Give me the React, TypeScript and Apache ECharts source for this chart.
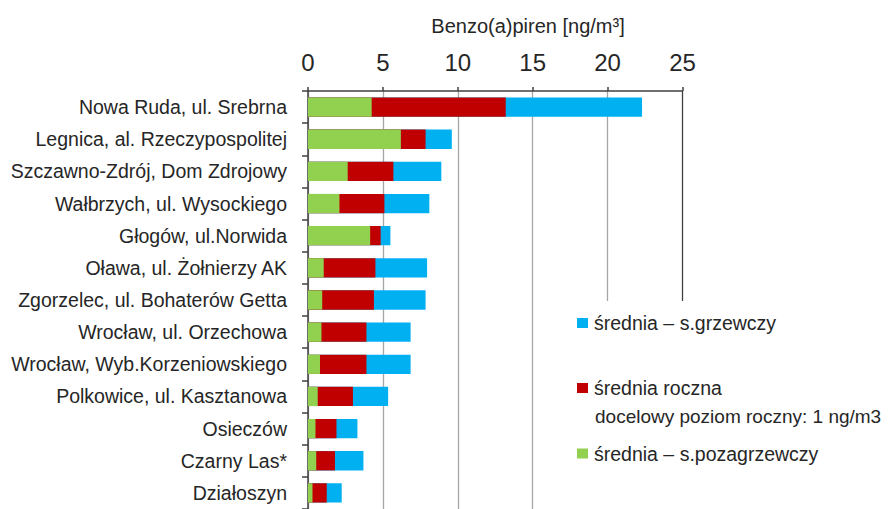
import React, { useEffect, useRef } from "react";
import * as echarts from "echarts";

const categories = [
  "Nowa Ruda, ul. Srebrna",
  "Legnica, al. Rzeczypospolitej",
  "Szczawno-Zdrój, Dom Zdrojowy",
  "Wałbrzych, ul. Wysockiego",
  "Głogów, ul.Norwida",
  "Oława, ul. Żołnierzy AK",
  "Zgorzelec, ul. Bohaterów Getta",
  "Wrocław, ul. Orzechowa",
  "Wrocław, Wyb.Korzeniowskiego",
  "Polkowice, ul. Kasztanowa",
  "Osieczów",
  "Czarny Las*",
  "Działoszyn",
];

const heatingSeason = [22.3, 9.6, 8.9, 8.1, 5.5, 7.95, 7.85, 6.85, 6.85, 5.35, 3.3, 3.7, 2.25];
const annualMean = [13.2, 7.85, 5.7, 5.1, 4.85, 4.5, 4.4, 3.9, 3.9, 3.0, 1.9, 1.8, 1.25];
const nonHeatingSeason = [4.25, 6.2, 2.65, 2.1, 4.15, 1.05, 0.95, 0.9, 0.8, 0.65, 0.5, 0.55, 0.3];

const xTicks = { min: 0, max: 25, interval: 5 };

const nameHeating = "średnia – s.grzewczy";
const nameAnnual = "średnia roczna";
const nameNonHeating = "średnia – s.pozagrzewczy";
const annualNote = "docelowy poziom roczny: 1 ng/m3";
const axisTitle = "Benzo(a)piren [ng/m³]";

const FONT = "'Liberation Sans', Arial, sans-serif";
const TEXT = "#262626";
const AXIS = "#404040";
const GRID = "#a6a6a6";

const BLUE = "#00B0F0";
const RED = "#C00000";
const GREEN = "#92D050";

export default function App() {
  const ref = useRef<HTMLDivElement>(null);

  useEffect(() => {
    if (!ref.current) return;
    const chart = echarts.init(ref.current, undefined, { renderer: "svg" });
    const legendBase = {
      orient: "vertical" as const,
      left: 577,
      padding: 0,
      icon: "rect",
      itemWidth: 11,
      itemHeight: 10,
      itemGap: 5,
      z: 10,
      selectedMode: false,
      textStyle: { fontFamily: FONT, fontSize: 19.5, color: TEXT, padding: [0, 0, 0, 1] },
    };
    chart.setOption({
      animation: false,
      backgroundColor: "#ffffff",
      textStyle: { fontFamily: FONT },
      grid: { left: 308, top: 91, width: 374.5, height: 422, containLabel: false },
      xAxis: {
        type: "value",
        position: "top",
        min: xTicks.min,
        max: xTicks.max,
        interval: xTicks.interval,
        axisLine: { show: true, lineStyle: { color: AXIS, width: 1.5 } },
        axisTick: { show: true, length: 4, lineStyle: { color: AXIS, width: 1.5 } },
        axisLabel: { fontFamily: FONT, fontSize: 24, color: TEXT, margin: 17 },
        splitLine: {
          show: true,
          lineStyle: { color: [GRID, GRID, GRID, GRID, GRID, AXIS], width: 1.3 },
        },
      },
      yAxis: {
        type: "category",
        inverse: true,
        data: categories,
        axisLine: { show: true, lineStyle: { color: AXIS, width: 1.5 } },
        axisTick: { show: true, length: 6, alignWithLabel: false, lineStyle: { color: AXIS, width: 1.5 } },
        axisLabel: { fontFamily: FONT, fontSize: 19.5, color: TEXT, margin: 21 },
        splitLine: { show: false },
      },
      legend: [
        { ...legendBase, top: 313, data: [nameHeating] },
        { ...legendBase, top: 378, data: [nameAnnual] },
        { ...legendBase, top: 443.5, data: [nameNonHeating] },
      ],
      graphic: [
        {
          type: "rect",
          z: 8,
          silent: true,
          shape: { x: 560, y: 301, width: 329, height: 208 },
          style: { fill: "#ffffff" },
        },
        {
          type: "text",
          z: 10,
          x: 595,
          y: 416.5,
          style: {
            text: annualNote,
            font: `19px ${FONT}`,
            fill: TEXT,
            align: "left",
            verticalAlign: "middle",
          },
        },
        {
          type: "text",
          z: 10,
          x: 528,
          y: 26,
          style: {
            text: axisTitle,
            font: `20px ${FONT}`,
            fill: TEXT,
            align: "center",
            verticalAlign: "middle",
          },
        },
      ],
      series: [
        {
          name: nameHeating,
          type: "bar",
          data: heatingSeason,
          barWidth: "60%",
          barGap: "-100%",
          itemStyle: { color: BLUE },
          z: 2,
        },
        {
          name: nameAnnual,
          type: "bar",
          data: annualMean,
          barWidth: "60%",
          barGap: "-100%",
          itemStyle: { color: RED },
          z: 3,
        },
        {
          name: nameNonHeating,
          type: "bar",
          data: nonHeatingSeason,
          barWidth: "60%",
          barGap: "-100%",
          itemStyle: { color: GREEN },
          z: 4,
        },
      ],
    });
    return () => chart.dispose();
  }, []);

  return (
    <div
      ref={ref}
      style={{ position: "fixed", left: 0, top: 0, width: 889, height: 509, background: "#fff" }}
    />
  );
}
